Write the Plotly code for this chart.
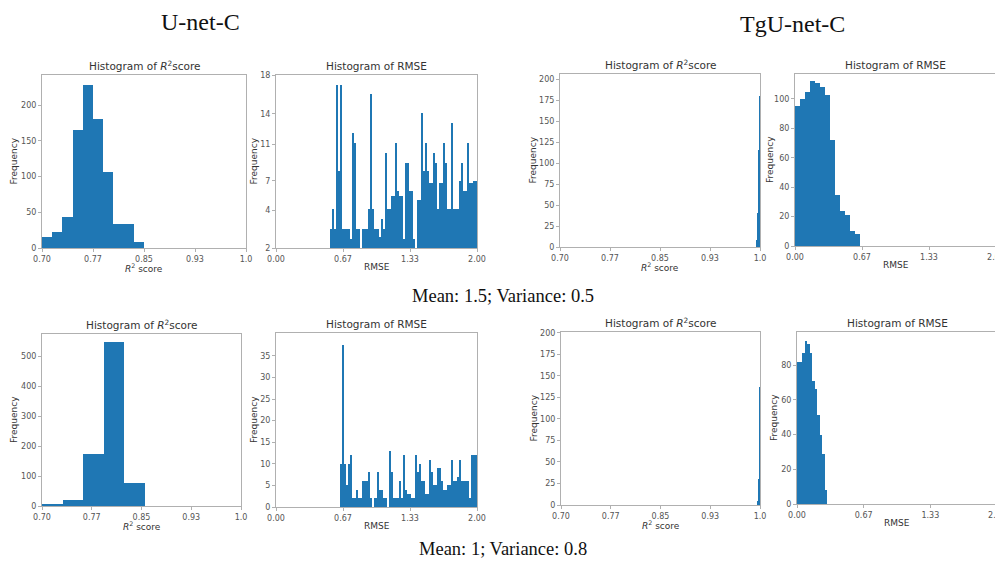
import plotly.graph_objects as go

# ---------------- data ----------------
# Panel 1: U-net-C, R^2 histogram (case 1)
p1_start, p1_width = 0.70, 0.015
p1_counts = [15, 23, 43, 165, 228, 180, 106, 33, 33, 9]

# Panel 2: U-net-C, RMSE histogram (case 1)  (values in axis units)
p2_start, p2_width = 0.54, 0.02
p2_counts = [3.75, 5.6, 3.75, 17.1, 9.1, 17.1, 3.75, 3.75, 3.75, 3.75,
             2.8, 12.6, 11.7, 3.75, 3.75, 0, 3.75, 3.75, 3.75, 5.6,
             16.2, 5.6, 3.75, 3.75, 3.0, 4.7, 3.75, 10.8, 5.6, 5.6,
             6.8, 6.8, 11.7, 7.3, 6.8, 6.8, 2.8, 9.9, 9.9, 7.3,
             7.3, 2.8, 0, 6.4, 6.4, 14.5, 9.1, 11.7, 9.1, 8.0,
             8.0, 10.8, 9.9, 5.6, 8.0, 8.0, 11.7, 9.9, 5.6, 5.6,
             13.6, 5.6, 5.6, 5.6, 8.2, 9.9, 7.3, 7.3, 11.7, 8.0,
             8.0, 8.2, 8.2]
p2_ytickvals = [2, 5.5, 8.2, 11.6, 14.4, 18]
p2_yticktext = ["2", "4", "7", "11", "14", "18"]

# Panel 3: TgU-net-C, R^2 histogram (case 1)
p3_start, p3_width = 0.994, 0.0015
p3_counts = [8, 40, 115, 180]

# Panel 4: TgU-net-C, RMSE histogram (case 1)
p4_start, p4_width = 0.0, 0.05
p4_counts = [95, 100, 105, 112, 111, 108, 103, 72, 35, 24, 21, 10, 8.5]

# Panel 5: U-net-C, R^2 histogram (case 2)
p5_start, p5_width = 0.70, 0.031
p5_counts = [7, 20, 175, 547, 78]

# Panel 6: U-net-C, RMSE histogram (case 2)
p6_start, p6_width = 0.64, 0.02
p6_counts = [10, 37.5, 10, 5, 10, 12, 2, 2, 4, 2,
             2, 6, 6, 6, 8, 2, 0, 2, 8, 4,
             4, 2, 2, 0, 13, 8, 2, 2, 2, 6,
             2, 12, 4, 3, 3, 2, 2, 12, 8, 10,
             6, 6, 3, 3, 11, 8, 5, 5, 9, 9,
             6, 4, 4, 5, 5, 11, 6, 6, 7, 11,
             6, 6, 6, 6, 2, 12, 12, 12]

# Panel 7: TgU-net-C, R^2 histogram (case 2)
p7_start, p7_width = 0.9955, 0.0015
p7_counts = [5, 30, 137]

# Panel 8: TgU-net-C, RMSE histogram (case 2)
p8_start, p8_width = 0.0, 0.025
p8_counts = [82, 82, 87, 94, 92, 87, 71, 66, 51, 40, 29, 8]

r2_tickvals = [0.70, 0.775, 0.85, 0.925, 1.0]
r2_ticktext = ["0.70", "0.77", "0.85", "0.93", "1.0"]
rmse_tickvals = [0.0, 0.6667, 1.3333, 2.0]
rmse_ticktext = ["0.00", "0.67", "1.33", "2.00"]

col_titles = ["U-net-C", "TgU-net-C"]
row_captions = ["Mean: 1.5; Variance: 0.5", "Mean: 1; Variance: 0.8"]

# ---------------- layout helpers ----------------
PAGE_W, PAGE_H = 1003, 566
OFF = 8  # default body margin of the html page
W, H = PAGE_W - OFF, PAGE_H - OFF
BLUE = "#1f77b4"
TICKFONT = dict(family="DejaVu Sans", size=8, color="#555")
LABFONT = dict(family="DejaVu Sans", size=9, color="#333")
TITLEFONT = dict(family="DejaVu Sans", size=10.5, color="#333")


def fx(px):
    return (px - OFF) / W


def fy(py):
    return 1 - (py - OFF) / H


panels = [
    dict(s=p1_start, w=p1_width, c=p1_counts, kind="r2", box=(42, 246, 75, 248),
         yr=[0, 242], yt=([0, 50, 100, 150, 200], None), ylx=13),
    dict(s=p2_start, w=p2_width, c=p2_counts, kind="rmse", box=(276, 477, 75, 248),
         yr=[2, 18], yt=(p2_ytickvals, p2_yticktext), ylx=253),
    dict(s=p3_start, w=p3_width, c=p3_counts, kind="r2", box=(560, 760, 74, 247),
         yr=[0, 206], yt=([0, 25, 50, 75, 100, 125, 150, 175, 200], None), ylx=532),
    dict(s=p4_start, w=p4_width, c=p4_counts, kind="rmse", box=(795, 996, 74, 246),
         yr=[0, 117], yt=([0, 20, 40, 60, 80, 100], None), ylx=770),
    dict(s=p5_start, w=p5_width, c=p5_counts, kind="r2", box=(42, 241, 334, 506),
         yr=[0, 575], yt=([0, 100, 200, 300, 400, 500], None), ylx=14),
    dict(s=p6_start, w=p6_width, c=p6_counts, kind="rmse", box=(276, 477, 333, 507),
         yr=[0, 40.3], yt=([0, 5, 10, 15, 20, 25, 30, 35], None), ylx=254),
    dict(s=p7_start, w=p7_width, c=p7_counts, kind="r2", box=(561, 760, 332, 505),
         yr=[0, 201], yt=([0, 25, 50, 75, 100, 125, 150, 175, 200], None), ylx=533),
    dict(s=p8_start, w=p8_width, c=p8_counts, kind="rmse", box=(797, 997, 332, 504),
         yr=[0, 99], yt=([0, 20, 40, 60, 80], None), ylx=774),
]

fig = go.Figure()
annotations = []
layout = dict(width=W, height=H, margin=dict(l=0, r=0, t=0, b=0, autoexpand=False),
              paper_bgcolor="white", plot_bgcolor="white", showlegend=False,
              bargap=0)

for i, p in enumerate(panels, start=1):
    xa = "x" if i == 1 else f"x{i}"
    ya = "y" if i == 1 else f"y{i}"
    centers = [p["s"] + p["w"] * (k + 0.5) for k in range(len(p["c"]))]
    fig.add_trace(go.Bar(x=centers, y=p["c"], width=[p["w"]] * len(p["c"]),
                         marker=dict(color=BLUE, line=dict(width=0)),
                         xaxis=xa, yaxis=ya, hoverinfo="skip"))
    x0, x1, y0, y1 = p["box"]
    xd = [max(fx(x0), 0), min(fx(x1), 1)]
    yd = [fy(y1), fy(y0)]
    if p["kind"] == "r2":
        xr, xtv, xtt = [0.70, 1.0], r2_tickvals, r2_ticktext
        title = "Histogram of <i>R</i><sup>2</sup>score"
        xlab = "<i>R</i><sup>2</sup> score"
    else:
        xr, xtv, xtt = [0.0, 2.0], rmse_tickvals, rmse_ticktext
        title = "Histogram of RMSE"
        xlab = "RMSE"
    common = dict(showline=True, mirror=True, linecolor="#b0b0b0", linewidth=1,
                  ticks="outside", ticklen=3, tickcolor="#b0b0b0", automargin=False,
                  showgrid=False, zeroline=False, tickfont=TICKFONT, fixedrange=True,
                  ticklabeloverflow="allow")
    layout["xaxis" if i == 1 else f"xaxis{i}"] = dict(
        domain=xd, range=xr, tickvals=xtv, ticktext=xtt, anchor=ya, **common)
    ytv, ytt = p["yt"]
    yax = dict(domain=yd, range=p["yr"], tickvals=ytv, anchor=xa, **common)
    if ytt is not None:
        yax["ticktext"] = ytt
    layout["yaxis" if i == 1 else f"yaxis{i}"] = yax
    cx = fx((x0 + x1) / 2)
    annotations.append(dict(x=cx, y=fy(y0 - 1), xref="paper", yref="paper",
                            text=title, showarrow=False, xanchor="center",
                            yanchor="bottom", font=TITLEFONT))
    annotations.append(dict(x=cx, y=fy(y1 + 12), xref="paper", yref="paper",
                            text=xlab, showarrow=False, xanchor="center",
                            yanchor="top", font=LABFONT))
    annotations.append(dict(x=fx(p["ylx"]), y=fy((y0 + y1) / 2), xref="paper",
                            yref="paper", text="Frequency", showarrow=False,
                            textangle=-90, xanchor="center", yanchor="middle",
                            font=LABFONT))

SERIF = "Liberation Serif"
big = dict(family=SERIF, size=24, color="#111")
cap = dict(family=SERIF, size=18.5, color="#111")
annotations.append(dict(x=fx(200), y=fy(22), xref="paper", yref="paper",
                        text=col_titles[0], showarrow=False, xanchor="center",
                        yanchor="middle", font=big))
annotations.append(dict(x=fx(792), y=fy(24), xref="paper", yref="paper",
                        text=col_titles[1], showarrow=False, xanchor="center",
                        yanchor="middle", font=big))
annotations.append(dict(x=fx(503), y=fy(296), xref="paper", yref="paper",
                        text=row_captions[0], showarrow=False, xanchor="center",
                        yanchor="middle", font=cap))
annotations.append(dict(x=fx(503), y=fy(549), xref="paper", yref="paper",
                        text=row_captions[1], showarrow=False, xanchor="center",
                        yanchor="middle", font=cap))

layout["annotations"] = annotations
fig.update_layout(**layout)
fig.write_html("out.html")
